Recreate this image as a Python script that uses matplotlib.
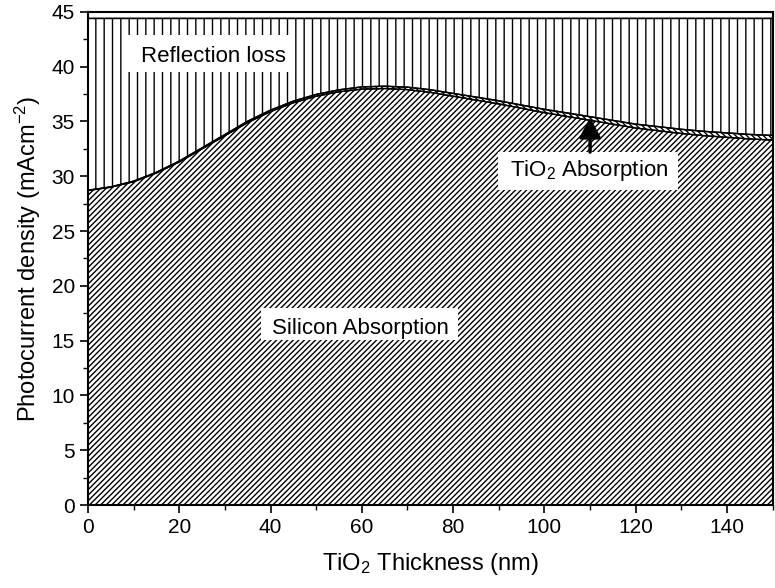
import numpy as np
import matplotlib.pyplot as plt
from matplotlib.patches import Rectangle
from matplotlib.ticker import MultipleLocator

plt.rcParams['font.family'] = ['Liberation Sans', 'DejaVu Sans']
plt.rcParams['mathtext.fontset'] = 'custom'
plt.rcParams['mathtext.rm'] = 'Liberation Sans'
plt.rcParams['mathtext.it'] = 'Liberation Sans:italic'
plt.rcParams['hatch.linewidth'] = 1.0

# TiO2 thickness (nm)
thickness = [0, 5, 10, 15, 20, 25, 30, 35, 40, 45, 50, 55, 60, 65, 70, 75,
             80, 85, 90, 95, 100, 105, 110, 115, 120, 125, 130, 135, 140, 145, 150]
# photocurrent absorbed in silicon (mA/cm2)
silicon = [28.7, 29.0, 29.5, 30.3, 31.3, 32.5, 33.7, 34.9, 35.9, 36.7, 37.3, 37.7,
           37.95, 38.0, 37.9, 37.65, 37.3, 36.95, 36.6, 36.2, 35.8, 35.45, 35.1,
           34.75, 34.4, 34.15, 33.9, 33.7, 33.55, 33.4, 33.3]
# photocurrent lost to absorption in the TiO2 layer
tio2 = [0.02, 0.03, 0.05, 0.06, 0.08, 0.09, 0.1, 0.12, 0.13, 0.15, 0.16, 0.18,
        0.2, 0.21, 0.22, 0.24, 0.25, 0.27, 0.28, 0.29, 0.3, 0.32, 0.33, 0.34,
        0.35, 0.37, 0.38, 0.39, 0.4, 0.41, 0.42]
# total available photocurrent
total = 44.4

x = np.array(thickness)
si = np.array(silicon)
upper = si + np.array(tio2)
top = np.full_like(x, total, dtype=float)

fig = plt.figure(figsize=(7.75, 5.88), dpi=100)
ax = fig.add_axes([0.1135, 0.141, 0.8835, 0.839])

ax.fill_between(x, 0, si, facecolor='white', edgecolor='black', hatch='//////', lw=1.0)
ax.fill_between(x, si, upper, facecolor='white', edgecolor='black', hatch='\\\\\\\\\\\\', lw=0.8)
ax.fill_between(x, upper, top, facecolor='white', edgecolor='black', hatch='||', lw=1.0)
ax.plot(x, si, color='black', lw=1.0)
ax.plot(x, upper, color='black', lw=1.0)
ax.plot(x, top, color='black', lw=1.0)

# white label boxes: (x0, y0, width, height), text anchor (left, baseline)
labels = [
    ('Reflection loss', (7.45, 39.5, 37.25, 3.36), (11.6, 40.4)),
    ('TiO$_2$ Absorption', (89.8, 28.7, 39.4, 3.5), (92.4, 30.0)),
    ('Silicon Absorption', (37.9, 15.05, 43.1, 2.95), (40.3, 15.65)),
]
for txt, (bx, by, bw, bh), (tx, ty) in labels:
    ax.add_patch(Rectangle((bx, by), bw, bh, facecolor='white', edgecolor='none', zorder=3))
    ax.text(tx, ty, txt, fontsize=16, ha='left', va='baseline', zorder=4)

ax.annotate('', xy=(110, 35.35), xytext=(110, 32.2),
            arrowprops=dict(arrowstyle='-|>,head_length=1.2,head_width=0.65',
                            color='black', lw=2.5, shrinkA=0, shrinkB=0),
            zorder=5)

ax.set_xlim(0, 150)
ax.set_ylim(0, 45)
ax.xaxis.set_major_locator(MultipleLocator(20))
ax.xaxis.set_minor_locator(MultipleLocator(10))
ax.yaxis.set_major_locator(MultipleLocator(5))
ax.yaxis.set_minor_locator(MultipleLocator(2.5))
ax.tick_params(which='major', direction='out', length=6, width=1.2, labelsize=15)
ax.tick_params(which='minor', direction='out', length=3.5, width=1.0)
for s in ax.spines.values():
    s.set_linewidth(1.5)

ax.set_xlabel('TiO$_2$ Thickness (nm)', fontsize=17, labelpad=10)
ax.set_ylabel('Photocurrent density (mAcm$^{-2}$)', fontsize=17, labelpad=6)

fig.savefig('out.png', dpi=100)
